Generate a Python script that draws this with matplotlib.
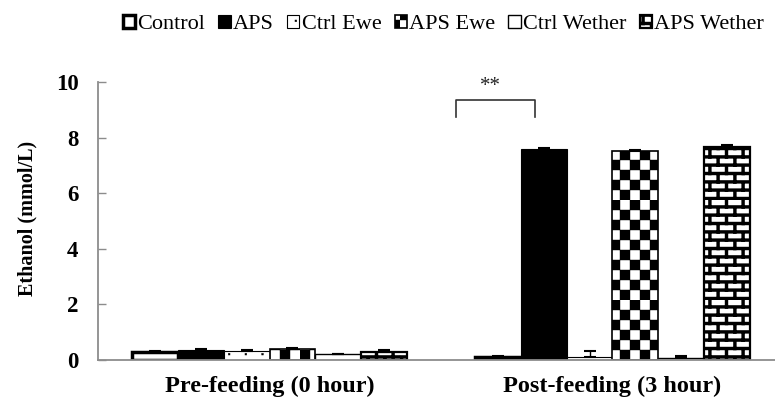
import numpy as np
import matplotlib
matplotlib.use("Agg")
import matplotlib.pyplot as plt
import matplotlib.hatch as mhatch
from matplotlib.path import Path

# ---------------------------------------------------------------- data
groups = ["Pre-feeding (0 hour)", "Post-feeding (3 hour)"]
series = ["Control", "APS", "Ctrl Ewe", "APS Ewe", "Ctrl Wether", "APS Wether"]

control = [0.30, 0.12]
aps = [0.36, 7.58]
ctrl_ewe = [0.32, 0.12]
aps_ewe = [0.38, 7.52]
ctrl_wether = [0.20, 0.07]
aps_wether = [0.28, 7.65]

control_err = [0.02, 0.03]
aps_err = [0.04, 0.06]
ctrl_ewe_err = [0.05, 0.20]
aps_ewe_err = [0.05, 0.04]
ctrl_wether_err = [0.03, 0.06]
aps_wether_err = [0.07, 0.07]

y_ticks = [0, 2, 4, 6, 8, 10]
sig_label = "**"


# ---------------------------------------------------------------- fill patterns
def _rects(rects):
    """Vertices/codes for a list of closed rectangles (x0, y0, x1, y1)."""
    verts, codes = [], []
    for x0, y0, x1, y1 in rects:
        verts += [(x0, y0), (x1, y0), (x1, y1), (x0, y1), (x0, y0)]
        codes += [Path.MOVETO, Path.LINETO, Path.LINETO, Path.LINETO, Path.CLOSEPOLY]
    return np.array(verts, float), np.array(codes, Path.code_type)


class _RectPattern(mhatch.HatchPatternBase):
    key = ""

    def build(self):
        return []

    def __init__(self, hatch, density):
        rects = self.build() if hatch.count(self.key) > 0 else []
        if rects:
            self.v, self.c = _rects(rects)
        else:
            self.v, self.c = np.empty((0, 2)), np.empty(0, Path.code_type)
        self.num_vertices = len(self.v)

    def set_vertices_and_codes(self, vertices, codes):
        vertices[:] = self.v
        codes[:] = self.c


class DotPattern(_RectPattern):
    """Sparse small square dots ('.')."""
    key = "."

    def build(self):
        n, s, out = 12, 0.017, []
        for i in range(n):
            for j in range(n):
                if (i + j) % 2 == 0:
                    cx, cy = (i + 0.5) / n, (j + 0.5) / n
                    out.append((cx - s / 2, cy - s / 2, cx + s / 2, cy + s / 2))
        return out


class CheckerPattern(_RectPattern):
    """Checkerboard ('x')."""
    key = "x"

    def build(self):
        n = 10
        return [(i / n, j / n, (i + 1) / n, (j + 1) / n)
                for i in range(n) for j in range(n) if (i + j) % 2 == 0]


class BrickPattern(_RectPattern):
    """Brick wall: thick black mortar around white bricks ('+')."""
    key = "+"

    def build(self):
        rows, cols, t, out = 12, 6, 0.03, []
        for k in range(rows):
            y0 = k / rows
            out.append((0.0, y0, 1.0, y0 + t))
            shift = 0.5 / cols if k % 2 else 0.0
            for j in range(cols):
                x0 = (j / cols + shift) % 1.0
                out.append((x0, y0, min(x0 + t, 1.0), (k + 1) / rows))
        return out


mhatch._hatch_types = [DotPattern, CheckerPattern, BrickPattern]

# ---------------------------------------------------------------- style
plt.rcParams['font.family'] = ['Liberation Serif', 'DejaVu Serif']
plt.rcParams['hatch.linewidth'] = 0.3

fig = plt.figure(figsize=(7.75, 4.05), dpi=100)
ax = fig.add_axes([0.1265, 0.111, 0.885, 0.6865])

values = [control, aps, ctrl_ewe, aps_ewe, ctrl_wether, aps_wether]
errors = [control_err, aps_err, ctrl_ewe_err, aps_ewe_err, ctrl_wether_err, aps_wether_err]
styles = [
    dict(facecolor="white", edgecolor="black", linewidth=2.5, hatch=None),
    dict(facecolor="black", edgecolor="black", linewidth=0.8, hatch=None),
    dict(facecolor="white", edgecolor="black", linewidth=0.8, hatch="."),
    dict(facecolor="white", edgecolor="black", linewidth=1.2, hatch="x"),
    dict(facecolor="white", edgecolor="black", linewidth=1.0, hatch=None),
    dict(facecolor="white", edgecolor="black", linewidth=1.6, hatch="+"),
]

x = np.arange(len(groups))
width = 0.1336
offsets = (np.arange(len(series)) - (len(series) - 1) / 2) * width

for name, vals, errs, off, st in zip(series, values, errors, offsets, styles):
    ax.bar(x + off, vals, width=width, label=name, zorder=2, **st)
    ax.errorbar(x + off, vals, yerr=[np.zeros(len(errs)), errs], fmt="none",
                ecolor="black", elinewidth=1.0, capsize=4, capthick=1.5, zorder=3)

# significance bracket between Control and APS after feeding
bx0, bx1 = 0.545, 0.775
by0, by1 = 8.75, 9.35
ax.plot([bx0, bx0, bx1, bx1], [by0, by1, by1, by0], color="#333333",
        linewidth=1.2, zorder=4, clip_on=False)
ax.text(0.643, 9.85, sig_label, ha="center", va="center", fontsize=15,
        color="#222222")

# ---------------------------------------------------------------- axes
ax.set_xlim(-0.5, 1.5)
ax.set_ylim(0, 10)
ax.set_yticks(y_ticks)
ax.set_yticklabels([str(v) for v in y_ticks], fontsize=16.5, fontweight="bold")
ax.set_xticks(x)
ax.set_xticklabels(groups, fontsize=17.5, fontweight="bold")
ax.tick_params(axis="y", direction="in", length=6, width=1.0, color="#8c8c8c", pad=14)
ax.tick_params(axis="x", length=0, pad=11)

for side in ("top", "right"):
    ax.spines[side].set_visible(False)
for side in ("left", "bottom"):
    ax.spines[side].set_color("#8c8c8c")
    ax.spines[side].set_linewidth(1.3)
ax.spines["bottom"].set_zorder(5)

ax.set_ylabel("Ethanol (mmol/L)", fontsize=14.5, fontweight="bold")
ax.yaxis.set_label_coords(-0.088, 0.51)

fig.legend(loc="center", bbox_to_anchor=(0.572, 0.94), ncol=6, frameon=False,
           fontsize=16, handlelength=0.55, handleheight=0.55,
           handletextpad=0.1, columnspacing=0.6, borderaxespad=0)

fig.savefig("out.png", dpi=100)
